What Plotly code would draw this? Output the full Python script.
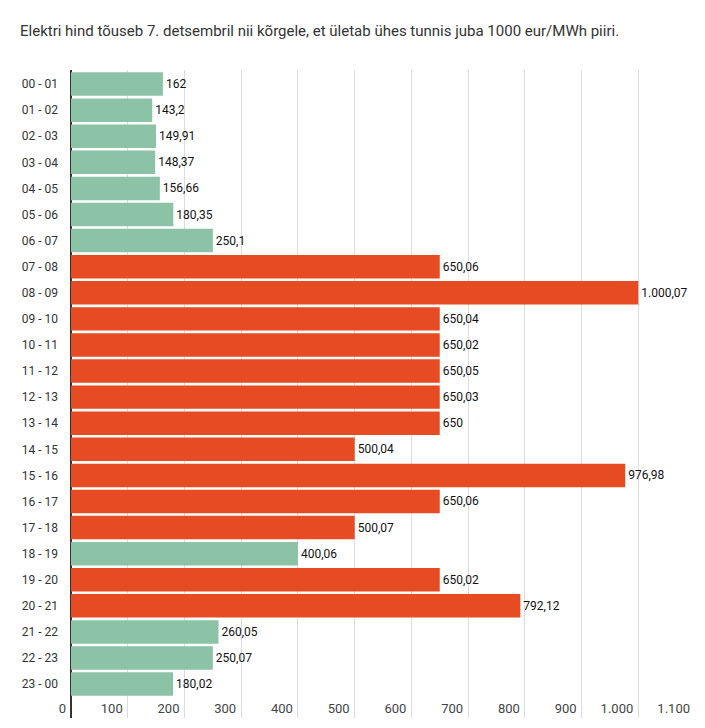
import plotly.graph_objects as go

hours = ["00 - 01", "01 - 02", "02 - 03", "03 - 04", "04 - 05", "05 - 06", "06 - 07",
         "07 - 08", "08 - 09", "09 - 10", "10 - 11", "11 - 12", "12 - 13", "13 - 14",
         "14 - 15", "15 - 16", "16 - 17", "17 - 18", "18 - 19", "19 - 20", "20 - 21",
         "21 - 22", "22 - 23", "23 - 00"]
prices = [162, 143.2, 149.91, 148.37, 156.66, 180.35, 250.1,
          650.06, 1000.07, 650.04, 650.02, 650.05, 650.03, 650,
          500.04, 976.98, 650.06, 500.07, 400.06, 650.02, 792.12,
          260.05, 250.07, 180.02]
tick_vals = [0, 100, 200, 300, 400, 500, 600, 700, 800, 900, 1000, 1100]
tick_text = ["0", "100", "200", "300", "400", "500", "600", "700", "800", "900", "1.000", "1.100"]

GREEN = "#8cc3a6"
RED = "#e64b23"
colors = [RED if v >= 500 else GREEN for v in prices]


def fmt(v):
    s = f"{v:,.2f}".rstrip("0").rstrip(".")
    return s.replace(",", "X").replace(".", ",").replace("X", ".")


labels = [fmt(v) for v in prices]

# page body has an 8px default margin; figure is placed at (8, 8)
OFF = 8

fig = go.Figure()
fig.add_trace(go.Bar(
    x=prices, y=hours, orientation="h",
    marker=dict(color=colors, line=dict(width=0)),
    text=labels, textposition="outside", cliponaxis=False,
    textfont=dict(family="Roboto", size=12, color="#111"),
    hoverinfo="skip",
))
# invisible companion trace carrying the tick-label axis
fig.add_trace(go.Scatter(
    x=prices, y=hours, xaxis="x2", mode="markers",
    marker=dict(opacity=0), hoverinfo="skip", showlegend=False,
))

fig.update_layout(
    width=705 - 2 * OFF, height=728 - 2 * OFF,
    margin=dict(l=71 - OFF, r=2, t=70 - OFF, b=2),
    paper_bgcolor="white", plot_bgcolor="white",
    bargap=0.1,
    showlegend=False,
    font=dict(family="Roboto", size=12, color="#333"),
    title=dict(
        text="Elektri hind tõuseb 7. detsembril nii kõrgele, et ületab ühes tunnis juba 1000 eur/MWh piiri.",
        x=(20 - OFF) / (705 - 2 * OFF), xref="container", xanchor="left",
        y=1 - (31 - OFF) / (728 - 2 * OFF), yref="container", yanchor="middle",
        font=dict(family="Roboto", size=15, color="#333"),
    ),
    xaxis=dict(
        range=[0, 1100], tickvals=tick_vals, ticktext=tick_text,
        showgrid=True, gridcolor="#dcdcdc", gridwidth=1,
        zeroline=True, zerolinecolor="#333", zerolinewidth=2,
        ticks="", showticklabels=False,
        showline=False, fixedrange=True,
    ),
    xaxis2=dict(
        overlaying="x", matches="x", anchor="free", position=0.03, side="bottom",
        range=[0, 1100], tickvals=tick_vals, ticktext=tick_text,
        showgrid=False, zeroline=False, showline=False, ticks="",
        ticklabelposition="outside left", ticklabelshift=-5,
        tickfont=dict(family="Roboto", size=13, color="#444"),
        fixedrange=True,
    ),
    yaxis=dict(
        categoryorder="array", categoryarray=hours,
        range=[24.3, -0.54],
        showgrid=False, zeroline=False, showline=False, ticks="",
        ticklabelstandoff=12,
        tickfont=dict(family="Roboto", size=12, color="#333"),
        fixedrange=True,
    ),
)

fig.write_html("out.html")
